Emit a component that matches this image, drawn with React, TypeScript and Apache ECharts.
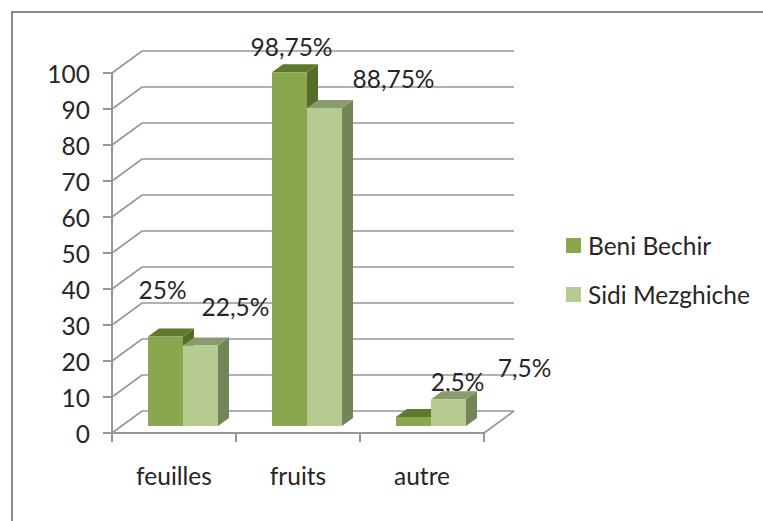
import React, { useEffect, useRef } from "react";
import * as echarts from "echarts";

const categories = ["feuilles", "fruits", "autre"];
const beniBechir = [25, 98.75, 2.5];
const sidiMezghiche = [22.5, 88.75, 7.5];
const beniLabels = ["25%", "98,75%", "2,5%"];
const sidiLabels = ["22,5%", "88,75%", "7,5%"];
const valueTicks = [0, 10, 20, 30, 40, 50, 60, 70, 80, 90, 100];

const FONT = "Lato";
const TEXT = "#262626";
const GRID = "#969696";
const BACK = { x: 30, y: -22 };
const BAR_SHIFT = { x: 10, y: -7 };
const BAR_DEPTH = { x: 11, y: -8 };
const BAR_W = 35;
const FONT_SIZE = 24.5;

const beniOffsets = [[-3, -59], [2, -38], [44, -48]];
const sidiOffsets = [[35, -51], [69, -42], [76, -44]];

const beniPalette = { front: "#8aa64e", top: "#5f7a2d", side: "#536d29" };
const sidiPalette = { front: "#b5cb90", top: "#8a9c6e", side: "#74845a" };

function barRenderer(
  barIndex: number,
  palette: { front: string; top: string; side: string },
  labels: string[],
  offsets: number[][],
) {
  return (params: any, api: any) => {
    const idx = params.dataIndex;
    const base = api.coord([api.value(0), 0]);
    const tip = api.coord([api.value(0), api.value(1)]);
    const x0 = base[0] - BAR_W + BAR_SHIFT.x - 1 + barIndex * BAR_W;
    const x1 = x0 + BAR_W;
    const yb = base[1] + BAR_SHIFT.y;
    const yt = yb - (base[1] - tip[1]) * 0.995;
    const d = BAR_DEPTH;
    return {
      type: "group",
      children: [
        {
          type: "polygon",
          shape: { points: [[x1, yt], [x1 + d.x, yt + d.y], [x1 + d.x, yb + d.y], [x1, yb]] },
          style: { fill: palette.side },
        },
        {
          type: "polygon",
          shape: { points: [[x0, yt], [x0 + d.x, yt + d.y], [x1 + d.x, yt + d.y], [x1, yt]] },
          style: { fill: palette.top },
        },
        {
          type: "rect",
          shape: { x: x0, y: yt, width: BAR_W, height: yb - yt },
          style: { fill: palette.front },
        },
        {
          type: "text",
          z2: 50,
          style: {
            x: x0 + BAR_W / 2 + offsets[idx][0],
            y: yt + offsets[idx][1] + 12,
            text: labels[idx],
            fill: TEXT,
            font: `${FONT_SIZE}px ${FONT}`,
            textAlign: "center",
            textVerticalAlign: "middle",
          },
        },
      ],
    };
  };
}

function gridRenderer(params: any, api: any) {
  const sys = params.coordSys;
  const y = api.coord([0, api.value(1)])[1];
  const style = { stroke: GRID, lineWidth: 1.6, fill: "none" };
  const left = sys.x;
  const right = sys.x + sys.width;
  const children: any[] = [
    {
      type: "polyline",
      shape: { points: [[left, y], [left + BACK.x, y + BACK.y], [right + BACK.x, y + BACK.y]] },
      style,
    },
  ];
  if (api.value(1) === 0) {
    children.push({
      type: "line",
      shape: { x1: right, y1: y, x2: right + BACK.x, y2: y + BACK.y },
      style,
    });
  }
  return { type: "group", children };
}

export default function App() {
  const ref = useRef<HTMLDivElement>(null);
  useEffect(() => {
    const chart = echarts.init(ref.current!, undefined, { renderer: "svg" });
    chart.setOption({
      animation: false,
      backgroundColor: "#ffffff",
      textStyle: { fontFamily: FONT },
      grid: { left: 112, top: 73, width: 372, height: 360, containLabel: false },
      xAxis: {
        type: "category",
        data: categories,
        axisLine: { show: true, lineStyle: { color: GRID, width: 2 } },
        axisTick: { show: true, length: 9, lineStyle: { color: GRID, width: 2 } },
        axisLabel: { color: TEXT, fontSize: FONT_SIZE, fontFamily: FONT, margin: 30 },
      },
      yAxis: {
        type: "value",
        min: 0,
        max: 100,
        interval: 10,
        splitLine: { show: false },
        axisLine: { show: true, lineStyle: { color: GRID, width: 2 } },
        axisTick: { show: true, length: 9, lineStyle: { color: GRID, width: 2 } },
        axisLabel: { color: TEXT, fontSize: FONT_SIZE, fontFamily: FONT, margin: 22 },
      },
      legend: {
        show: true,
        orient: "vertical",
        left: 566,
        top: 233,
        padding: 0,
        itemWidth: 15,
        itemHeight: 15,
        itemGap: 24,
        icon: "rect",
        data: ["Beni Bechir", "Sidi Mezghiche"],
        textStyle: { color: TEXT, fontSize: FONT_SIZE, fontFamily: FONT, padding: [0, 0, 0, 2] },
      },
      series: [
        {
          type: "custom",
          name: "grid",
          z: 1,
          silent: true,
          renderItem: gridRenderer,
          encode: { x: 0, y: 1 },
          data: valueTicks.map((v) => [0, v]),
        },
        {
          type: "custom",
          name: "Beni Bechir",
          z: 3,
          itemStyle: { color: beniPalette.front },
          renderItem: barRenderer(0, beniPalette, beniLabels, beniOffsets),
          encode: { x: 0, y: 1 },
          data: beniBechir.map((v, i) => [i, v]),
        },
        {
          type: "custom",
          name: "Sidi Mezghiche",
          z: 4,
          itemStyle: { color: sidiPalette.front },
          renderItem: barRenderer(1, sidiPalette, sidiLabels, sidiOffsets),
          encode: { x: 0, y: 1 },
          data: sidiMezghiche.map((v, i) => [i, v]),
        },
      ],
      graphic: [
        {
          type: "polyline",
          shape: { points: [[12, 521], [12, 12], [763, 12]] },
          style: { stroke: "#8a8a8a", lineWidth: 2, fill: "none" },
        },
      ],
    });
    return () => chart.dispose();
  }, []);
  return <div ref={ref} style={{ position: "absolute", left: 0, top: 0, width: 763, height: 521 }} />;
}
